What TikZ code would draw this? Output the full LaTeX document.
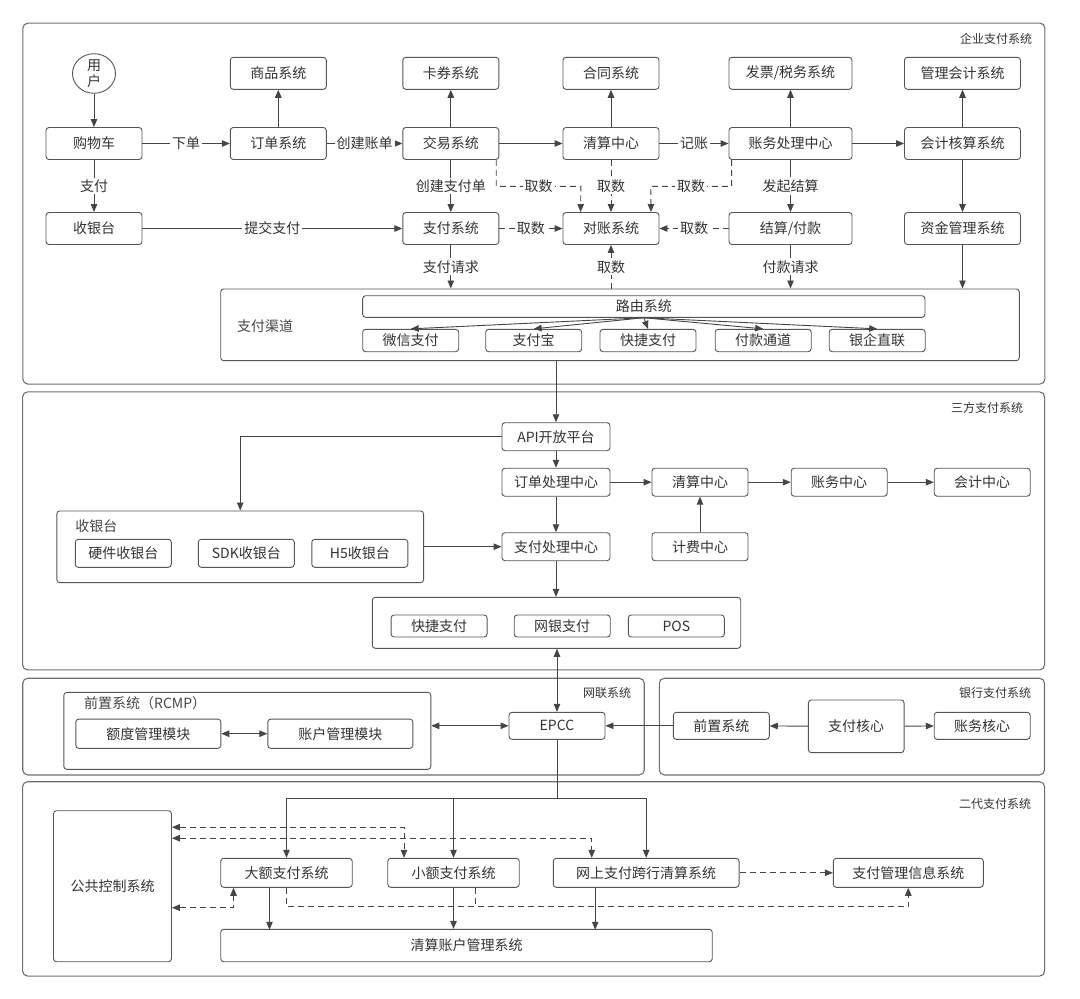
\documentclass[tikz,border=0pt]{standalone}
\usepackage{fontspec}
\setmainfont{Noto Sans CJK SC}
\usepackage{tikz}
\usetikzlibrary{arrows.meta, shapes.geometric}

\definecolor{LineGray}{HTML}{454545}
\definecolor{BoxGray}{HTML}{555555}
\definecolor{FrameGray}{HTML}{6E6E6E}
\definecolor{TextGray}{HTML}{333333}

\begin{document}
\begin{tikzpicture}[
            x = 1pt, y = -1pt, % pixel grid, y runs downwards
            > = {Triangle[length=8pt, width=6.5pt]}, % arrow head style
            line width = 0.9pt,
            color = LineGray
            , font = \fontsize{14}{16}\selectfont % text size of the boxes
        ]

        \tikzstyle{box}=[
            draw = BoxGray,
            rounded corners = 3pt,
            fill = white,
            text = TextGray,
            inner sep = 0pt,
            minimum width = 96pt,
            minimum height = 32pt
        ]
        \tikzstyle{frame}=[draw = FrameGray, line width = 1.1pt, rounded corners = 5pt, inner sep = 0pt]
        \tikzstyle{subframe}=[draw = BoxGray, rounded corners = 3pt, inner sep = 0pt]
        \tikzstyle{title}=[anchor = east, text = TextGray, font = \fontsize{12}{14}\selectfont]
        \tikzstyle{lbl}=[fill = white, inner sep = 2pt, text = TextGray]
        \tikzstyle{dline}=[dash pattern = on 6pt off 4pt]

        \useasboundingbox (0,0) rectangle (1080,999);

        % outer frames
        \node[frame, minimum width=1022pt, minimum height=361pt] (ENT) at (533.9,203.6) {};
        \node[title] at (1036,39.3) {企业支付系统};
        \node[frame, minimum width=1022pt, minimum height=278pt] (TPP) at (533.6,530.9) {};
        \node[title] at (1027,408.3) {三方支付系统};
        \node[frame, minimum width=621.5pt, minimum height=96.7pt] (NUCC) at (333.5,726.6) {};
        \node[title] at (635,692.7) {网联系统};
        \node[frame, minimum width=385.2pt, minimum height=96.7pt] (BANK) at (851.9,726.6) {};
        \node[title] at (1035,692.7) {银行支付系统};
        \node[frame, minimum width=1022pt, minimum height=194.3pt] (CNAPS) at (533.6,878.9) {};
        \node[title] at (1035,804) {二代支付系统};

        % enterprise
        \node[ellipse, draw = BoxGray, text = TextGray, minimum width=43pt, minimum height=35pt, inner sep=0pt, align=center, font=\fontsize{14}{16}\selectfont] (USER) at (94,73.5) {用\\户};
        \node[box] (CART) at (94,143.5) {购物车};
        \node[box] (CASHIER) at (94,228.5) {收银台};
        \node[box] (GOODS) at (278.3,73.3) {商品系统};
        \node[box] (ORDER) at (278.3,143.5) {订单系统};
        \node[box] (COUPON) at (450.8,73.3) {卡券系统};
        \node[box] (TRADE) at (450.8,143.5) {交易系统};
        \node[box] (PAYSYS) at (450.8,228.5) {支付系统};
        \node[box] (CONTRACT) at (611,73.3) {合同系统};
        \node[box] (CLEAR) at (611,143.5) {清算中心};
        \node[box] (RECON) at (611,228.5) {对账系统};
        \node[box, minimum width=123pt] (INVOICE) at (790.5,73.3) {发票/税务系统};
        \node[box, minimum width=123pt] (LEDGER) at (790.5,143.5) {账务处理中心};
        \node[box, minimum width=123pt] (SETTLE) at (790.5,228.5) {结算/付款};
        \node[box, minimum width=116pt] (MGMT) at (962.5,73.3) {管理会计系统};
        \node[box, minimum width=116pt] (ACCT) at (962.5,143.5) {会计核算系统};
        \node[box, minimum width=116pt] (FUND) at (962.5,228.5) {资金管理系统};

        \node[subframe, minimum width=798.6pt, minimum height=71.7pt] (CHAN) at (620,324.8) {};
        \node (CHANL) at (265,325.7) {支付渠道};
        \node[box, minimum width=562.3pt, minimum height=21.6pt] (ROUTE) at (643.8,306.5) {路由系统};
        \node[box, minimum height=22.4pt] (WECHAT) at (410.7,340.5) {微信支付};
        \node[box, minimum height=22.4pt] (ALIPAY) at (533.7,340.5) {支付宝};
        \node[box, minimum height=22.4pt] (QUICK) at (648,340.5) {快捷支付};
        \node[box, minimum height=22.4pt] (PAYOUT) at (763.2,340.5) {付款通道};
        \node[box, minimum height=22.4pt] (BANKDIR) at (877.2,340.5) {银企直联};

        \path[->] (USER) edge (CART);
        \path[->] (CART) edge node[lbl] {下单} (ORDER);
        \path[->] (CART) edge node[lbl] {支付} (CASHIER);
        \path[->] (ORDER) edge (GOODS);
        \path[->] (ORDER) edge node[lbl] {创建账单} (TRADE);
        \path[->] (TRADE) edge (COUPON);
        \path[->] (TRADE) edge (CLEAR);
        \path[->] (TRADE) edge node[lbl] {创建支付单} (PAYSYS);
        \path[->] (CASHIER) edge node[lbl] {提交支付} (PAYSYS);
        \path[->] (CLEAR) edge (CONTRACT);
        \path[->] (CLEAR) edge node[lbl] {记账} (LEDGER);
        \path[->] (LEDGER) edge (INVOICE);
        \path[->] (LEDGER) edge (ACCT);
        \path[->] (LEDGER) edge node[lbl] {发起结算} (SETTLE);
        \path[->] (ACCT) edge (MGMT);
        \path[->] (ACCT) edge (FUND);
        \path[->, dline] (CLEAR) edge node[lbl] {取数} (RECON);
        \path[->, dline] (PAYSYS) edge node[lbl] {取数} (RECON);
        \path[->, dline] (SETTLE) edge node[lbl] {取数} (RECON);
        \draw[->, dline] ([xshift=-3pt]TRADE.south east) -- ++(0,26.4) -- node[lbl] {取数} ++(84.6,0) -- ([xshift=-30.4pt]RECON.north);
        \draw[->, dline] ([xshift=3pt]LEDGER.south west) -- ++(0,26.4) -- node[lbl] {取数} ++(-80.8,0) -- ([xshift=40pt]RECON.north);
        \path[->] (PAYSYS) edge node[lbl] {支付请求} (PAYSYS |- CHAN.north);
        \path[->] (SETTLE) edge node[lbl] {付款请求} (SETTLE |- CHAN.north);
        \path[->] (FUND) edge (FUND |- CHAN.north);
        \path[<-, dline] (RECON) edge node[lbl] {取数} (RECON |- CHAN.north);
        \path[->] (ROUTE.south) edge (WECHAT.north);
        \path[->] (ROUTE.south) edge (ALIPAY.north);
        \path[->] (ROUTE.south) edge (QUICK.north);
        \path[->] (ROUTE.south) edge (PAYOUT.north);
        \path[->] (ROUTE.south) edge (BANKDIR.north);

        % third party
        \node[box, minimum width=108pt, minimum height=28pt] (API) at (556,436.7) {API开放平台};
        \node[box, minimum width=108pt, minimum height=28pt] (OPC) at (556,482.2) {订单处理中心};
        \node[box, minimum width=108pt, minimum height=28pt] (PPC) at (556,546.7) {支付处理中心};
        \node[box, minimum height=28pt] (TCLR) at (700,482.2) {清算中心};
        \node[box, minimum height=28pt] (TFEE) at (700,546.7) {计费中心};
        \node[box, minimum height=28pt] (TLEDG) at (839.2,482.2) {账务中心};
        \node[box, minimum height=28pt] (TACC) at (982.2,482.2) {会计中心};
        \node[subframe, minimum width=366.8pt, minimum height=71.7pt] (DESK) at (240.2,546.8) {};
        \node[anchor=west, inner sep=0pt] (DESKL) at (75,526) {收银台};
        \node[box, minimum height=28pt] (HW) at (123.3,553.3) {硬件收银台};
        \node[box, minimum height=28pt] (SDK) at (246.3,553.3) {SDK收银台};
        \node[box, minimum height=28pt] (H5) at (359.8,553.3) {H5收银台};
        \node[subframe, minimum width=368.4pt, minimum height=51pt] (GATE) at (556.5,622.8) {};
        \node[box, minimum height=22pt] (QUICKB) at (439.1,626) {快捷支付};
        \node[box, minimum height=22pt] (WEB) at (562.2,626) {网银支付};
        \node[box, minimum height=22pt] (POS) at (676.3,626) {POS};

        \path[->] (API |- CHAN.south) edge (API);
        \path[->] (API) edge (OPC);
        \path[->] (OPC) edge (PPC);
        \path[->] (PPC) edge (PPC |- GATE.north);
        \path[->] (OPC) edge (TCLR);
        \path[->] (TCLR) edge (TLEDG);
        \path[->] (TLEDG) edge (TACC);
        \path[->] (TFEE) edge (TCLR);
        \draw[->] (API.west) -| (DESK.north);
        \path[->] (DESK.east |- PPC) edge (PPC);

        % nets union
        \node[subframe, minimum width=367pt, minimum height=77pt] (RCMP) at (247.3,730.8) {};
        \node[anchor=west, inner sep=0pt] (RCMPL) at (83.7,703.3) {前置系统（RCMP）};
        \node[box, minimum width=145pt, minimum height=29.3pt] (QUOTA) at (148.3,733.7) {额度管理模块};
        \node[box, minimum width=145pt, minimum height=29.3pt] (ACCMOD) at (340.3,733.7) {账户管理模块};
        \node[box, minimum height=27pt] (EPCC) at (557,725.8) {EPCC};
        \path[<->] (QUOTA) edge (ACCMOD);
        \path[<->] (RCMP.east |- EPCC) edge (EPCC);
        \path[<->] (EPCC |- GATE.south) edge (EPCC);

        % bank
        \node[box, minimum height=27pt] (FRONT) at (721.3,725.8) {前置系统};
        \node[box, minimum width=95.7pt, minimum height=52.7pt] (CORE) at (856.2,726.3) {支付核心};
        \node[box, minimum height=27pt] (ACORE) at (982.2,725.8) {账务核心};
        \path[->] (FRONT) edge (EPCC);
        \path[->] (CORE) edge (FRONT);
        \path[->] (CORE) edge (ACORE);

        % second generation
        \node[box, minimum width=118pt, minimum height=151pt] (PUB) at (112.5,886.2) {公共控制系统};
        \node[box, minimum width=131.5pt, minimum height=29pt] (HVPS) at (286.5,872.8) {大额支付系统};
        \node[box, minimum width=131.5pt, minimum height=29pt] (BEPS) at (453.5,872.8) {小额支付系统};
        \node[box, minimum width=185.7pt, minimum height=29pt] (IBPS) at (646.2,872.8) {网上支付跨行清算系统};
        \node[box, minimum width=150pt, minimum height=29pt] (MIS) at (908.3,872.8) {支付管理信息系统};
        \node[box, minimum width=491.5pt, minimum height=32.4pt] (SAPS) at (466.5,945.5) {清算账户管理系统};
        \coordinate (BUS) at (557,798.3);

        \draw (EPCC) -- (BUS);
        \draw[->] (BUS) -| (HVPS);
        \draw[->] (BUS) -| (IBPS);
        \path[->] (BEPS |- BUS) edge (BEPS);
        \draw[<->, dline] ([yshift=59pt]PUB.east) -| ([xshift=-49.5pt]BEPS.north);
        \draw[<->, dline] ([yshift=48pt]PUB.east) -| ([xshift=-54.5pt]IBPS.north);
        \draw[<->, dline] ([yshift=-21.5pt]PUB.east) -| ([xshift=-53pt]HVPS.south);
        \draw[->, dline] (HVPS.south) -- ++(0,19) -| (MIS.south);
        \draw[dline] ([xshift=21.7pt]BEPS.south) -- ++(0,19);
        \path[->, dline] (IBPS) edge (MIS);
        \draw[->] ([xshift=-17pt]HVPS.south) -- ++(0,42);
        \path[->] (BEPS) edge (BEPS |- SAPS.north);
        \draw[->] ([xshift=-51pt]IBPS.south) -- ++(0,42);

    \end{tikzpicture}
\end{document}
